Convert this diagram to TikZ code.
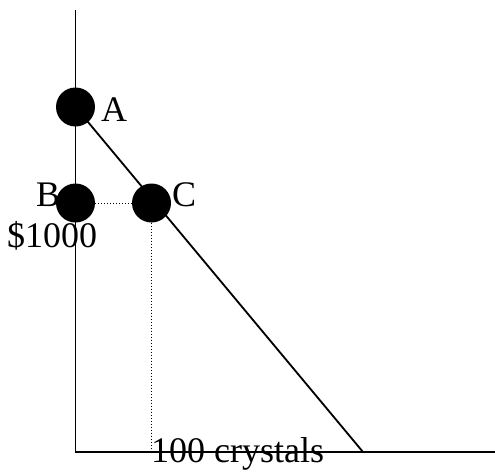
\documentclass[tikz,border=0pt]{standalone}
\usepackage{fontspec}
\setmainfont{Liberation Serif}
\begin{document}
\begin{tikzpicture}[x=1pt,y=-1pt,
  dot/.style={circle,fill=black,draw=none,minimum size=39pt,inner sep=0pt},
  axis/.style={line width=1.8pt},
  guide/.style={line width=1pt,dotted},
  lbl/.style={font=\fontsize{36}{40}\selectfont,inner sep=0pt,anchor=base west}]
\useasboundingbox (0,0) rectangle (495,471);
\coordinate (top) at (75.5,10);
\coordinate (O) at (75.5,452);
\coordinate (xend) at (495,452);
\coordinate (E) at (363,452);
% labels
\node[lbl] (lA) at (101,121) {A};
\node[lbl] (lB) at (36,206) {B};
\node[lbl] (lC) at (172,206) {C};
\node[lbl] (l1000) at (7,247) {\$1000};
\node[lbl] (lx) at (151,462) {100 crystals};
% axes
\draw[axis] (top) -- (O) -- (xend);
% points
\node[dot] (A) at (75.5,107) {};
\node[dot] (B) at (75.5,203) {};
\node[dot] (C) at (151.5,203) {};
\draw[axis] (A.center) -- (E);
\draw[guide] (B) -- (C);
\draw[guide] (C) -- (C |- O);
\end{tikzpicture}
\end{document}
